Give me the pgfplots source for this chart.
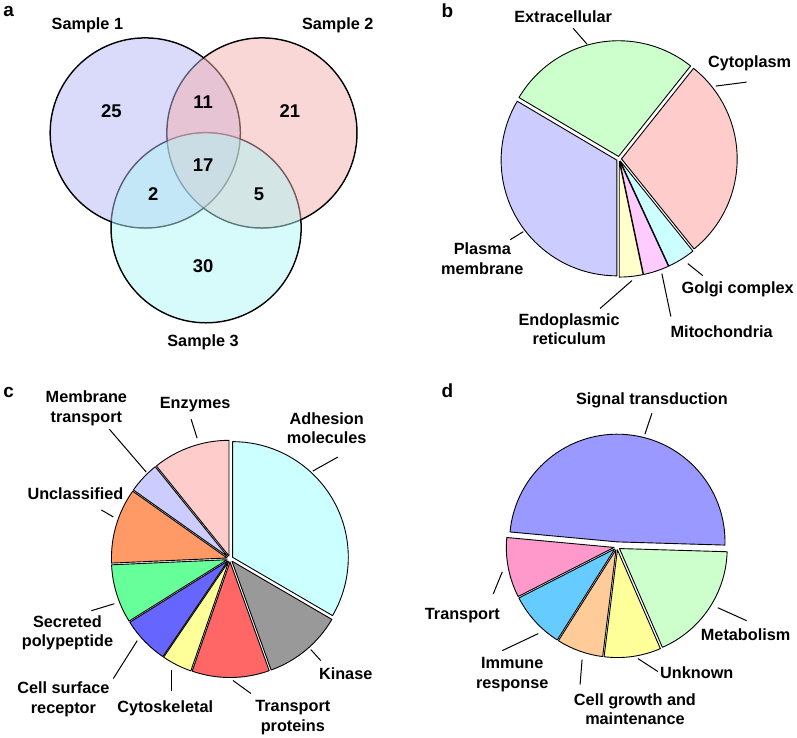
\documentclass[border=0pt]{standalone}
\usepackage{fontspec}
\setmainfont{Liberation Sans}
\usepackage{pgfplots}
\usepackage{pgfplotstable}
\pgfplotsset{compat=1.18}

% Venn colours
\definecolor{vA}{RGB}{181,181,245}
\definecolor{vB}{RGB}{245,175,175}
\definecolor{vC}{RGB}{175,245,245}
% pie b
\definecolor{bExt}{RGB}{204,255,204}
\definecolor{bCyt}{RGB}{255,204,204}
\definecolor{bGol}{RGB}{204,255,255}
\definecolor{bMit}{RGB}{255,204,255}
\definecolor{bER}{RGB}{255,255,204}
\definecolor{bPla}{RGB}{204,204,255}
% pie c
\definecolor{cAdh}{RGB}{204,255,255}
\definecolor{cKin}{RGB}{153,153,153}
\definecolor{cTrp}{RGB}{255,102,102}
\definecolor{cCyt}{RGB}{255,255,153}
\definecolor{cCsr}{RGB}{102,102,255}
\definecolor{cSec}{RGB}{102,255,153}
\definecolor{cUnc}{RGB}{255,153,102}
\definecolor{cMem}{RGB}{204,204,255}
\definecolor{cEnz}{RGB}{255,204,204}
% pie d
\definecolor{dSig}{RGB}{153,153,255}
\definecolor{dMet}{RGB}{204,255,204}
\definecolor{dUnk}{RGB}{255,255,153}
\definecolor{dGro}{RGB}{255,204,153}
\definecolor{dImm}{RGB}{102,204,255}
\definecolor{dTra}{RGB}{255,153,204}

% Pie b: percentages, clockwise from 149.4 deg
\pgfplotstableread{
name val col ex
Extracellular 27.2 bExt 2.5
Cytoplasm 28.5 bCyt 2.5
Golgi 3.9 bGol 2.5
Mitochondria 3.6 bMit 2.5
ER 3.3 bER 2.5
Plasma 33.5 bPla 2.5
}\tabB
% Pie c: clockwise from 90 deg
\pgfplotstableread{
name val col ex
Adhesion 33.4 cAdh 3
Kinase 11.1 cKin 3
TransportProteins 10.8 cTrp 3
Cytoskeletal 4.2 cCyt 3
CellSurface 6.6 cCsr 3
Secreted 8.2 cSec 3
Unclassified 10.5 cUnc 3
MembraneTransport 4.4 cMem 3
Enzymes 10.8 cEnz 3
}\tabC
% Pie d: clockwise from 174.7 deg
\pgfplotstableread{
name val col ex
Signal 49.0 dSig 5
Metabolism 18.0 dMet 3
Unknown 8.5 dUnk 3
CellGrowth 7.0 dGro 3
Immune 8.5 dImm 3
Transport 9.0 dTra 3
}\tabD

\newcommand{\drawpie}[5]{%
  \pgfplotstablegetrowsof{#1}%
  \pgfmathtruncatemacro{\nrows}{\pgfplotsretval-1}%
  \pgfmathsetmacro{\curang}{#5}%
  \pgfplotsforeachungrouped \i in {0,...,\nrows}{%
    \pgfplotstablegetelem{\i}{val}\of{#1}\let\pv\pgfplotsretval
    \pgfplotstablegetelem{\i}{col}\of{#1}\let\pc\pgfplotsretval
    \pgfplotstablegetelem{\i}{ex}\of{#1}\let\pe\pgfplotsretval
    \pgfmathsetmacro{\endang}{\curang-3.6*\pv}%
    \pgfmathsetmacro{\midang}{0.5*(\curang+\endang)}%
    \edef\temp{\noexpand\filldraw[fill=\pc,draw=black,line width=0.9pt,line join=round]
      ([shift={(\midang:\pe pt)}]axis cs:#2,#3) -- ++(\curang:#4pt)
      arc[start angle=\curang,end angle=\endang,radius=#4pt] -- cycle;}%
    \temp
    \let\curang\endang
  }%
}

\newcommand\lbl{\fontsize{16.3}{19.5}\selectfont\bfseries}
\newcommand\num{\fontsize{18.5}{20}\selectfont\bfseries}
\newcommand\pan{\fontsize{19}{20}\selectfont\bfseries}

\begin{document}
\begin{tikzpicture}
\begin{axis}[scale only axis, width=797pt, height=741pt,
  xmin=0, xmax=797, ymin=0, ymax=741, y dir=reverse,
  hide axis, clip=false]

% ---------- panel a: Venn ----------
\pgfplotsextra{%
  \draw[line width=1.5pt] (axis cs:144,135) circle[radius=95.3pt];
  \draw[line width=1.5pt] (axis cs:261,135) circle[radius=95.3pt];
  \draw[line width=1.5pt] (axis cs:205,230) circle[radius=95.3pt];
  \fill[vA, opacity=0.5] (axis cs:144,135) circle[radius=94.5pt];
  \fill[vB, opacity=0.5] (axis cs:261,135) circle[radius=94.5pt];
  \fill[vC, opacity=0.5] (axis cs:205,230) circle[radius=94.5pt];
}
\node[font=\num] at (axis cs:110,113) {25};
\node[font=\num] at (axis cs:202,104) {11};
\node[font=\num] at (axis cs:289,113) {21};
\node[font=\num] at (axis cs:202,167) {17};
\node[font=\num] at (axis cs:152,196) {2};
\node[font=\num] at (axis cs:258,196) {5};
\node[font=\num] at (axis cs:202,269) {30};
\node[font=\lbl] at (axis cs:86,27) {Sample 1};
\node[font=\lbl] at (axis cs:337,27) {Sample 2};
\node[font=\lbl] at (axis cs:202,345) {Sample 3};

% ---------- pies ----------
\pgfplotsextra{%
  \drawpie{\tabB}{619}{161}{116}{149.4}%
  \drawpie{\tabC}{229}{562}{116}{90}%
  \drawpie{\tabD}{617}{550}{108}{174.7}%
}

% labels b
\node[font=\lbl] at (axis cs:563,18) {Extracellular};
\draw[line width=1pt] (axis cs:573,30) -- (axis cs:587,46);
\node[font=\lbl] at (axis cs:750,65) {Cytoplasm};
\draw[line width=1pt] (axis cs:747,84) -- (axis cs:716,88);
\node[font=\lbl, align=center] at (axis cs:482,261) {Plasma\\membrane};
\draw[line width=1pt] (axis cs:510,242) -- (axis cs:523,234);
\node[font=\lbl, align=center] at (axis cs:569,332) {Endoplasmic\\reticulum};
\draw[line width=1pt] (axis cs:600,311) -- (axis cs:632,283);
\node[font=\lbl] at (axis cs:722,334) {Mitochondria};
\draw[line width=1pt] (axis cs:671,319) -- (axis cs:662,276);
\node[font=\lbl] at (axis cs:738,292) {Golgi complex};
\draw[line width=1pt] (axis cs:703,278) -- (axis cs:688,266);

% labels c
\node[font=\lbl, align=center] at (axis cs:85,411) {Membrane\\transport};
\draw[line width=1pt] (axis cs:108,432) -- (axis cs:145,475);
\node[font=\lbl] at (axis cs:194,407) {Enzymes};
\draw[line width=1pt] (axis cs:190,422) -- (axis cs:196,441);
\node[font=\lbl] at (axis cs:74,497) {Unclassified};
\draw[line width=1pt] (axis cs:100,513) -- (axis cs:112,520);
\node[font=\lbl, align=center] at (axis cs:326,431) {Adhesion\\molecules};
\draw[line width=1pt] (axis cs:337,460) -- (axis cs:312,474);
\node[font=\lbl] at (axis cs:345,677) {Kinase};
\draw[line width=1pt] (axis cs:310,653) -- (axis cs:320,664);
\node[font=\lbl, align=center] at (axis cs:292,721) {Transport\\proteins};
\draw[line width=1pt] (axis cs:232,684) -- (axis cs:250,697);
\node[font=\lbl] at (axis cs:164,712) {Cytoskeletal};
\draw[line width=1pt] (axis cs:170,673) -- (axis cs:170,695);
\node[font=\lbl, align=center] at (axis cs:62,703) {Cell surface\\receptor};
\draw[line width=1pt] (axis cs:112,682) -- (axis cs:136,644);
\node[font=\lbl, align=center] at (axis cs:66,636) {Secreted\\polypeptide};
\draw[line width=1pt] (axis cs:90,614) -- (axis cs:113,607);

% labels d
\node[font=\lbl] at (axis cs:652,403) {Signal transduction};
\draw[line width=1pt] (axis cs:652,416) -- (axis cs:645,437);
\node[font=\lbl] at (axis cs:462,619) {Transport};
\draw[line width=1pt] (axis cs:493,597) -- (axis cs:502,575);
\node[font=\lbl, align=center] at (axis cs:512,678) {Immune\\response};
\draw[line width=1pt] (axis cs:502,654) -- (axis cs:538,637);
\node[font=\lbl, align=center] at (axis cs:635,713) {Cell growth and\\maintenance};
\draw[line width=1pt] (axis cs:580,688) -- (axis cs:582,663);
\node[font=\lbl] at (axis cs:697,676) {Unknown};
\draw[line width=1pt] (axis cs:658,675) -- (axis cs:638,662);
\node[font=\lbl] at (axis cs:746,638) {Metabolism};
\draw[line width=1pt] (axis cs:747,624) -- (axis cs:718,611);

% panel letters
\node[font=\pan] at (axis cs:7,13) {a};
\node[font=\pan] at (axis cs:447,12) {b};
\node[font=\pan] at (axis cs:7,395) {c};
\node[font=\pan] at (axis cs:447,393) {d};
\end{axis}
\end{tikzpicture}
\end{document}
